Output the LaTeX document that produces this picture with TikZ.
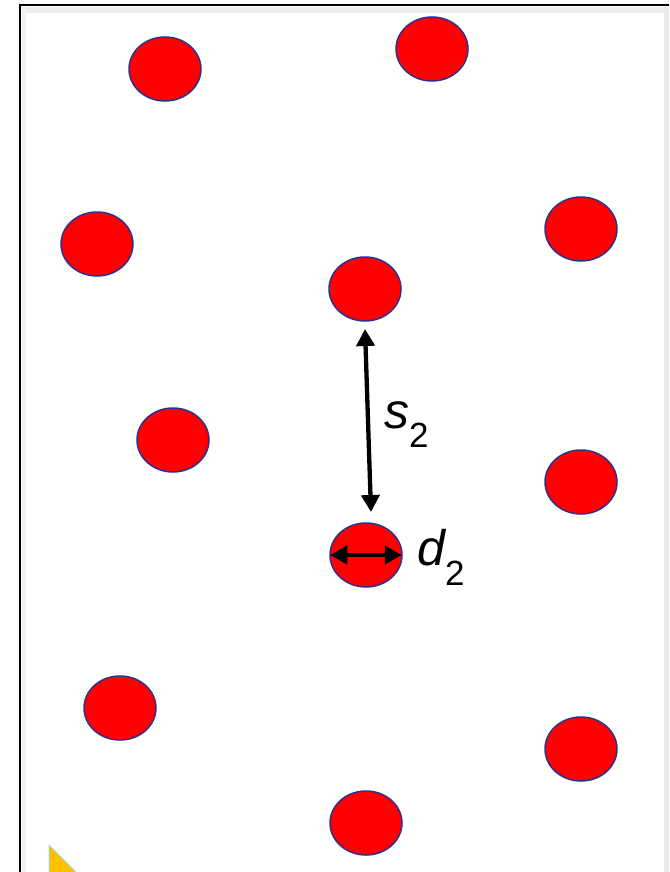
\documentclass[tikz,border=0pt]{standalone}
\usepackage{fontspec}
\setmainfont{Liberation Sans}
\usetikzlibrary{arrows.meta,shapes.geometric}
\definecolor{dotred}{RGB}{255,0,0}
\definecolor{dotedge}{RGB}{46,49,146}
\definecolor{triyellow}{RGB}{255,192,0}
\definecolor{triedge}{RGB}{170,215,225}
\tikzset{
  dot/.style={ellipse, draw=dotedge, fill=dotred, line width=1.5pt, minimum width=72pt, minimum height=64pt, inner sep=0pt},
  dim/.style={line width=4.3pt, {Triangle[length=17pt,width=18pt]}-{Triangle[length=17pt,width=18pt]}},
  lab/.style={anchor=base west, inner sep=0pt}
}
\newcommand{\mainsz}{\fontsize{50}{50}\selectfont}
\newcommand{\subsz}{\fontsize{35}{35}\selectfont}
\begin{document}
\begin{tikzpicture}[x=1pt,y=-1pt]
\useasboundingbox (0,0) rectangle (669,872);
\fill[white] (0,0) rectangle (669,872);
% frame shadow
\fill[black!7] (22,7) rectangle (669,13);
\fill[black!8] (664,7) rectangle (669,872);
\fill[black!5] (22,7) rectangle (26,872);
% frame
\draw[line width=2.2pt] (20,872) -- (20,5) -- (669,5);
% dots
\node[dot] (e1) at (165,69) {};
\node[dot] (e2) at (432,49) {};
\node[dot] (e3) at (97,244) {};
\node[dot] (e4) at (581,229) {};
\node[dot] (e5) at (365,289) {};
\node[dot] (e6) at (173,440) {};
\node[dot] (e7) at (581,482) {};
\node[dot] (e8) at (366,555) {};
\node[dot] (e9) at (120,708) {};
\node[dot] (e10) at (581,749) {};
\node[dot] (e11) at (366,823) {};
% spacing arrow
\coordinate (s2top) at (365,329);
\coordinate (s2bot) at (371,512);
\draw[dim] (s2top) -- (s2bot);
% diameter arrow
\draw[dim, shorten <=1pt, shorten >=1pt] (e8.west) -- (e8.east);
% labels
\node[lab] (s2) at (384,428) {\mainsz\itshape s\raisebox{-19pt}{\subsz\upshape 2}};
\node[lab] (d2) at (417,565) {\mainsz\itshape d\raisebox{-20pt}{\subsz\upshape 2}};
% yellow corner triangle
\fill[black!10] (52,848) -- (80,876) -- (52,876) -- cycle;
\filldraw[fill=triyellow, draw=triedge, line width=1pt] (49,845) -- (77,873) -- (49,873) -- cycle;
\end{tikzpicture}
\end{document}
